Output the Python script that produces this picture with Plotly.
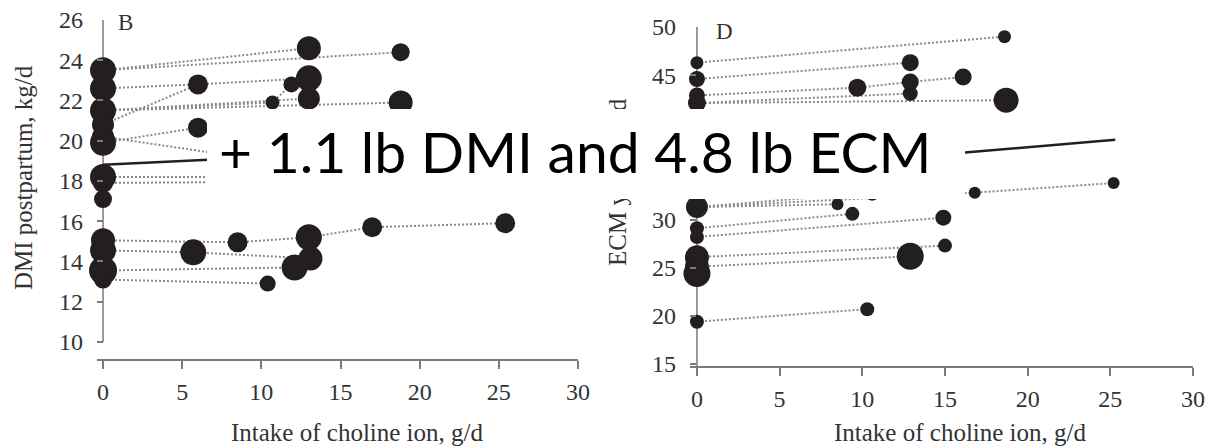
import plotly.graph_objects as go

# ---------------- Panel B : DMI postpartum, kg/d ----------------
dmi_ctrl_y = [23.5, 22.6, 21.5, 20.8, 20.2, 19.9, 18.2, 17.9, 17.1, 15.05, 14.55, 13.55, 13.1]
dmi_ctrl_size = [26, 26, 26, 22, 22, 26, 26, 20, 18, 24, 26, 28, 18]
dmi_trt_dose = [18.8, 13.0, 6.0, 13.0, 10.7, 11.9, 13.0, 18.8, 6.0, 13.0,
                12.5, 18.8, 8.5, 13.0, 17.0, 25.4, 5.7, 13.1, 12.1, 10.4]
dmi_trt_y = [24.4, 24.6, 22.8, 23.1, 21.9, 22.8, 22.1, 21.9, 20.65, 18.7,
             18.2, 18.0, 14.95, 15.2, 15.7, 15.9, 14.45, 14.15, 13.7, 12.9]
dmi_trt_size = [18, 24, 20, 26, 14, 16, 22, 24, 20, 20,
                20, 20, 20, 26, 20, 20, 26, 24, 26, 16]
# (control index, [treatment indices]) joined by dotted lines
dmi_paths = [(0, [0]), (0, [1]), (1, [2, 3]), (2, [4, 5]), (2, [6]), (2, [7]),
             (3, [2]), (4, [9]), (5, [8]), (6, [10]), (7, [11]),
             (9, [12, 13, 14, 15]), (10, [16, 17]), (11, [18]), (12, [19])]
dmi_fit_dose = [0, 25.4]
dmi_fit_y = [18.8, 19.75]
dmi_yticks = [10, 12, 14, 16, 18, 20, 22, 24, 26]

# ---------------- Panel D : ECM yield, kg/d ----------------
ecm_ctrl_y = [46.3, 44.6, 42.9, 42.1, 31.3, 29.1, 28.2, 26.1, 25.1, 24.4, 19.4]
ecm_ctrl_size = [13, 16, 16, 18, 22, 14, 14, 24, 24, 27, 14]
ecm_trt_dose = [18.6, 12.9, 12.9, 12.9, 9.7, 16.1, 18.7, 8.5, 9.4, 10.6,
                16.8, 25.2, 14.9, 15.0, 12.9, 10.3]
ecm_trt_y = [49.0, 46.3, 44.3, 43.1, 43.7, 44.8, 42.4, 31.6, 30.6, 32.8,
             32.8, 33.8, 30.2, 27.3, 26.2, 20.7]
ecm_trt_size = [13, 17, 17, 15, 18, 17, 25, 12, 14, 16, 12, 12, 16, 14, 27, 14]
ecm_paths = [(0, [0]), (1, [1]), (2, [4, 2, 5]), (3, [3]), (3, [6]), (4, [7]),
             (4, [9]), (4, [10, 11]), (5, [8]), (6, [12]), (7, [13]), (8, [14]),
             (10, [15])]
ecm_fit_dose = [0, 25.3]
ecm_fit_y = [34.6, 38.3]
ecm_yticks = [15, 20, 25, 30, 35, 40, 45, 50]

x_ticks = [0, 5, 10, 15, 20, 25, 30]
control_dose = 0

x_title = "Intake of choline ion, g/d"
dmi_title = "DMI postpartum, kg/d"
ecm_title = "ECM yield, kg/d"
overlay_text = "+ 1.1 lb DMI and 4.8 lb ECM"

W, H = 1217, 448
SERIF = "Liberation Serif"
DOT = "#8a8a8a"
INK = "#231f20"
AX = "#7a7a7a"
TXT = "#333333"


def path_xy(ctrl_y, trt_x, trt_y, paths):
    xs, ys = [], []
    for c, ts in paths:
        xs.append(control_dose)
        ys.append(ctrl_y[c])
        for t in ts:
            xs.append(trt_x[t])
            ys.append(trt_y[t])
        xs.append(None)
        ys.append(None)
    return xs, ys


fig = go.Figure()


def add_panel(ctrl_y, ctrl_size, trt_x, trt_y, trt_size, paths, fit_x, fit_y, xa, ya):
    lx, ly = path_xy(ctrl_y, trt_x, trt_y, paths)
    fig.add_trace(go.Scatter(x=lx, y=ly, mode="lines", xaxis=xa, yaxis=ya,
                             line=dict(color=DOT, width=2, dash="2px,2px"),
                             hoverinfo="skip", cliponaxis=False))
    fig.add_trace(go.Scatter(x=fit_x, y=fit_y, mode="lines", xaxis=xa, yaxis=ya,
                             line=dict(color=INK, width=2.5), cliponaxis=False))
    fig.add_trace(go.Scatter(x=[control_dose] * len(ctrl_y) + list(trt_x),
                             y=list(ctrl_y) + list(trt_y), mode="markers",
                             xaxis=xa, yaxis=ya, cliponaxis=False,
                             marker=dict(color=INK, opacity=1,
                                         size=list(ctrl_size) + list(trt_size),
                                         line=dict(width=0))))


add_panel(dmi_ctrl_y, dmi_ctrl_size, dmi_trt_dose, dmi_trt_y, dmi_trt_size,
          dmi_paths, dmi_fit_dose, dmi_fit_y, "x", "y")
add_panel(ecm_ctrl_y, ecm_ctrl_size, ecm_trt_dose, ecm_trt_y, ecm_trt_size,
          ecm_paths, ecm_fit_dose, ecm_fit_y, "x2", "y2")


def tf():
    return dict(family=SERIF, size=24, color=TXT)


def xcommon():
    return dict(showline=True, linecolor=AX, linewidth=1.5, ticks="outside", ticklen=8,
                tickwidth=1.5, tickcolor=AX, tickvals=x_ticks, showgrid=False,
                zeroline=False, tickfont=tf(), ticklabelstandoff=2, automargin=False)


def ycommon():
    return dict(showline=False, ticks="inside", ticklen=6, tickwidth=1.5, tickcolor=AX,
                showgrid=False, zeroline=False, tickfont=tf(), ticklabelstandoff=13,
                automargin=False)


fig.update_layout(
    width=W, height=H, margin=dict(l=0, r=0, t=0, b=0, autoexpand=False),
    font=dict(family=SERIF, size=24, color=TXT),
    paper_bgcolor="white", plot_bgcolor="white", showlegend=False,
    xaxis=dict(domain=[97 / W, 578 / W], range=[-0.38, 30], anchor="y", **xcommon()),
    yaxis=dict(domain=[1 - 359 / H, 1 - 20 / H], range=[9.15, 26], anchor="x",
               tickvals=dmi_yticks, **ycommon()),
    xaxis2=dict(domain=[690 / W, 1193 / W], range=[-0.42, 30], anchor="y2", **xcommon()),
    yaxis2=dict(domain=[1 - 366 / H, 1 - 27 / H], range=[14.8, 50], anchor="x2",
                tickvals=ecm_yticks, **ycommon()),
)

# vertical axis lines drawn at zero dose
fig.add_shape(type="line", xref="x", yref="y", x0=0, x1=0, y0=10, y1=26,
              line=dict(color=AX, width=1.5), layer="below")
fig.add_shape(type="line", xref="x2", yref="y2", x0=0, x1=0, y0=14.8, y1=50,
              line=dict(color=AX, width=1.5), layer="below")

annots = [
    dict(text=x_title, x=357 / W, y=1 - 432 / H),
    dict(text=x_title, x=960 / W, y=1 - 432 / H),
    dict(text=dmi_title, x=23 / W, y=1 - 178 / H, textangle=-90),
    dict(text=ecm_title, x=617 / W, y=1 - 182 / H, textangle=-90),
]
for a in annots:
    fig.add_annotation(xref="paper", yref="paper", showarrow=False,
                       xanchor="center", yanchor="middle",
                       font=dict(family=SERIF, size=25, color=TXT), **a)

fig.add_annotation(text="B", xref="paper", yref="paper", x=116 / W, y=1 - 22 / H,
                   xanchor="left", yanchor="middle", showarrow=False,
                   font=dict(family=SERIF, size=23, color=TXT))
fig.add_annotation(text="D", xref="paper", yref="paper", x=714 / W, y=1 - 32 / H,
                   xanchor="left", yanchor="middle", showarrow=False,
                   font=dict(family=SERIF, size=23, color=TXT))

# white overlay box and its caption
fig.add_shape(type="rect", xref="paper", yref="paper", x0=207 / W, x1=965 / W,
              y0=1 - 199 / H, y1=1 - 109 / H, fillcolor="white",
              line=dict(width=0), layer="above")
fig.add_annotation(text=" ", xref="paper", yref="paper", x=586 / W, y=1 - 154 / H,
                   xanchor="center", yanchor="middle", showarrow=False,
                   width=758, height=90, bgcolor="white", borderpad=0, borderwidth=0,
                   font=dict(size=10))
fig.add_annotation(text=overlay_text, xref="paper", yref="paper", x=575 / W, y=1 - 151 / H,
                   xanchor="center", yanchor="middle", showarrow=False,
                   font=dict(family="Lato", size=57, color="black"))

fig.write_html("out.html", config={"displayModeBar": False},
               post_script="document.body.style.margin='0px';document.body.style.overflow='hidden';")
